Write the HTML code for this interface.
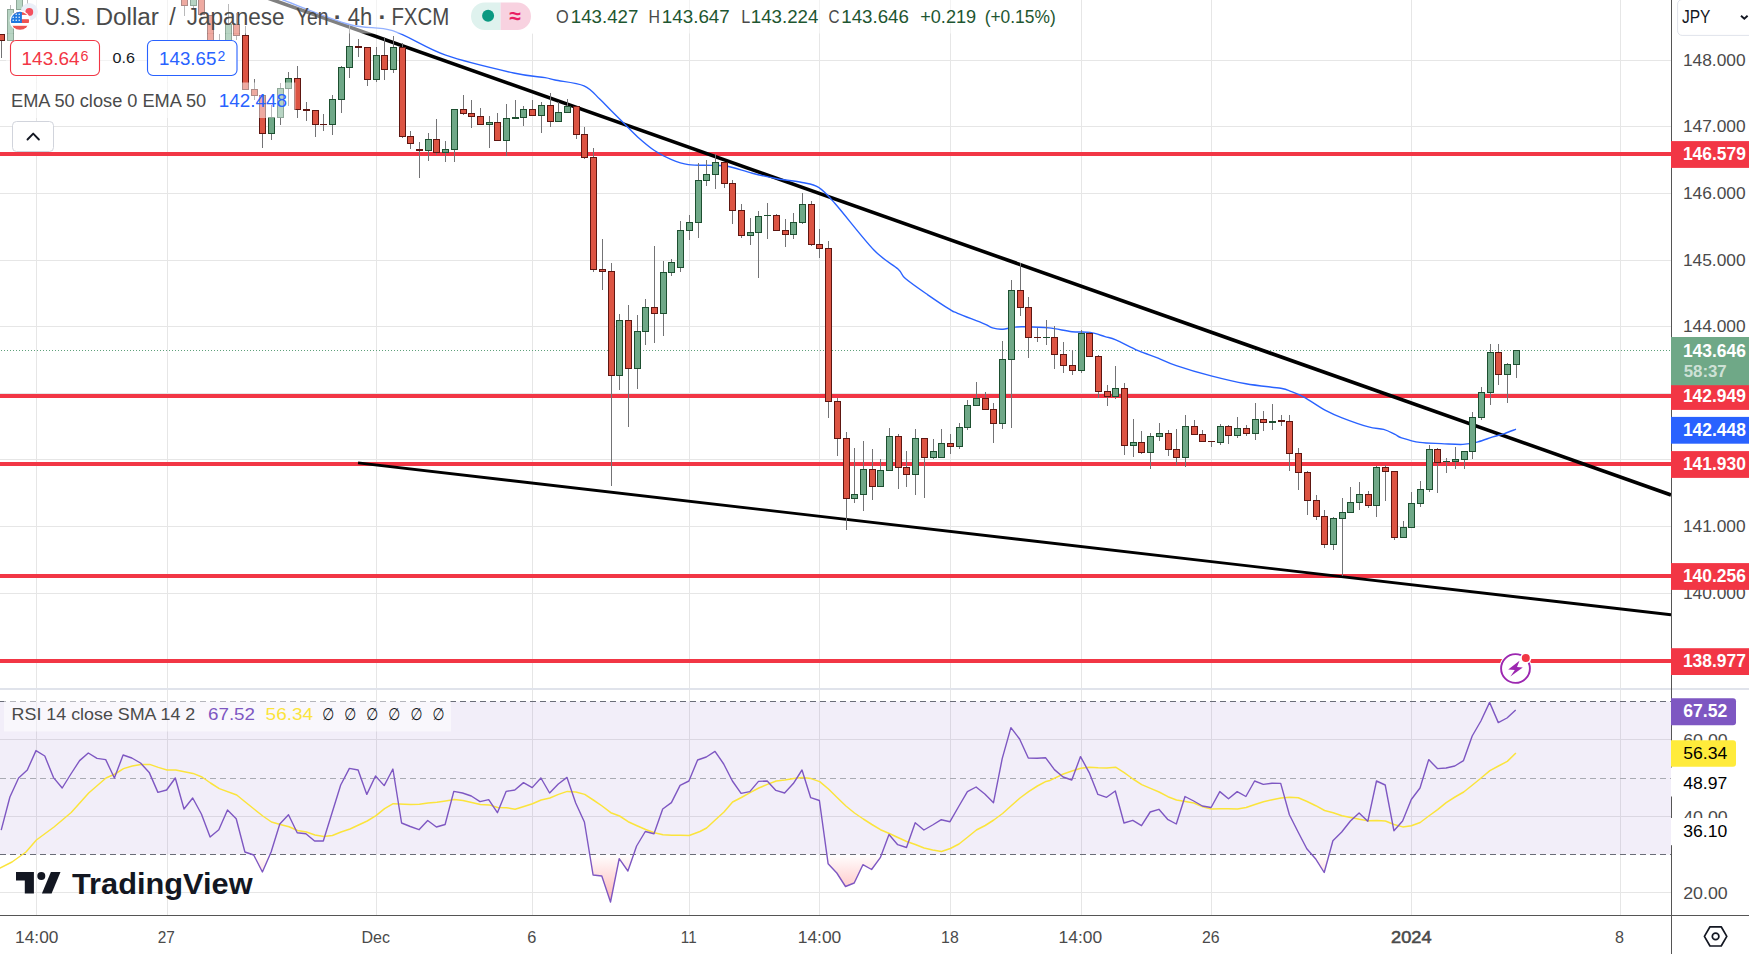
<!DOCTYPE html>
<html lang="en"><head><meta charset="utf-8"><title>USDJPY 4h chart</title>
<style>
html,body{margin:0;padding:0;background:#fff;}
body{width:1749px;height:954px;overflow:hidden;position:relative;font-family:"Liberation Sans", "DejaVu Sans", sans-serif;}
svg{position:absolute;left:0;top:0;display:block;}
text{font-family:"Liberation Sans", "DejaVu Sans", sans-serif;}
.ax{font-size:17.2px;fill:#4a4a4a;}
.lb{font-size:17.5px;font-weight:bold;fill:#fff;}
.tm{font-size:16.5px;fill:#4a4a4a;}
</style></head><body>
<svg width="1749" height="954" viewBox="0 0 1749 954">
<defs>
<linearGradient id="os" gradientUnits="userSpaceOnUse" x1="0" y1="854" x2="0" y2="905"><stop offset="0" stop-color="#ff5252" stop-opacity="0"/><stop offset="1" stop-color="#ff5252" stop-opacity="0.45"/></linearGradient>
<linearGradient id="ob" gradientUnits="userSpaceOnUse" x1="0" y1="701" x2="0" y2="660"><stop offset="0" stop-color="#4caf50" stop-opacity="0"/><stop offset="1" stop-color="#4caf50" stop-opacity="0.4"/></linearGradient>
<clipPath id="cpMain"><rect x="0" y="0" width="1671" height="688"/></clipPath>
<clipPath id="cpRsi"><rect x="0" y="690" width="1671" height="225"/></clipPath>
<clipPath id="cpBelow30"><rect x="0" y="854.5" width="1671" height="60"/></clipPath>
<clipPath id="cpAbove70"><rect x="0" y="690" width="1671" height="11.5"/></clipPath>
</defs>
<rect width="1749" height="954" fill="#fff"/>

<g id="grid" shape-rendering="crispEdges">
<rect x="36" y="0" width="1" height="915" fill="#e6e6e6"/>
<rect x="167" y="0" width="1" height="915" fill="#e6e6e6"/>
<rect x="376" y="0" width="1" height="915" fill="#e6e6e6"/>
<rect x="532" y="0" width="1" height="915" fill="#e6e6e6"/>
<rect x="689" y="0" width="1" height="915" fill="#e6e6e6"/>
<rect x="819" y="0" width="1" height="915" fill="#e6e6e6"/>
<rect x="950" y="0" width="1" height="915" fill="#e6e6e6"/>
<rect x="1081" y="0" width="1" height="915" fill="#e6e6e6"/>
<rect x="1211" y="0" width="1" height="915" fill="#e6e6e6"/>
<rect x="1411" y="0" width="1" height="915" fill="#e6e6e6"/>
<rect x="1620" y="0" width="1" height="915" fill="#e6e6e6"/>
<rect x="0" y="60" width="1671" height="1" fill="#e6e6e6"/>
<rect x="0" y="126" width="1671" height="1" fill="#e6e6e6"/>
<rect x="0" y="193" width="1671" height="1" fill="#e6e6e6"/>
<rect x="0" y="260" width="1671" height="1" fill="#e6e6e6"/>
<rect x="0" y="326" width="1671" height="1" fill="#e6e6e6"/>
<rect x="0" y="393" width="1671" height="1" fill="#e6e6e6"/>
<rect x="0" y="459" width="1671" height="1" fill="#e6e6e6"/>
<rect x="0" y="526" width="1671" height="1" fill="#e6e6e6"/>
<rect x="0" y="593" width="1671" height="1" fill="#e6e6e6"/>
<rect x="0" y="739" width="1671" height="1" fill="#e6e6e6"/>
<rect x="0" y="816" width="1671" height="1" fill="#e6e6e6"/>
<rect x="0" y="892" width="1671" height="1" fill="#e6e6e6"/>
</g>
<rect x="0" y="701.5" width="1671" height="153" fill="#7e57c2" fill-opacity="0.1"/>
<rect x="0" y="688" width="1749" height="2" fill="#e0e3eb"/>
<g clip-path="url(#cpMain)">
<rect x="0" y="152" width="1671" height="4" fill="#f23645"/>
<rect x="0" y="394" width="1671" height="4" fill="#f23645"/>
<rect x="0" y="462" width="1671" height="4" fill="#f23645"/>
<rect x="0" y="574" width="1671" height="4" fill="#f23645"/>
<rect x="0" y="659" width="1671" height="4" fill="#f23645"/>
<line x1="1" y1="350.5" x2="1671" y2="350.5" stroke="#5fa07b" stroke-width="1" stroke-dasharray="1 2" shape-rendering="crispEdges"/>
<line x1="255" y1="-6.4" x2="1671" y2="495" stroke="#000" stroke-width="3.6"/>
<line x1="358" y1="462.9" x2="1671" y2="614.8" stroke="#000" stroke-width="2.9"/>
<path d="M270.0 -5.0 C272.2 -4.2 269.9 -4.9 283.2 0.0 C296.4 4.9 331.3 19.4 349.5 24.5 C367.7 29.6 376.6 25.6 392.6 30.7 C408.6 35.8 425.5 48.2 445.7 55.2 C465.9 62.2 497.2 69.3 513.7 73.0 C530.2 76.7 538.1 76.4 545.0 77.6 C551.9 78.8 548.5 78.6 555.0 80.0 C561.5 81.4 576.5 82.6 584.0 85.8 C591.5 89.0 595.2 94.9 599.7 99.1 C604.2 103.2 607.1 106.6 611.3 110.7 C615.4 114.8 620.2 119.5 624.6 123.9 C629.0 128.3 632.9 132.8 637.9 137.2 C642.9 141.6 648.9 146.8 654.4 150.5 C659.9 154.2 665.3 157.0 671.0 159.3 C676.7 161.7 681.5 163.6 688.4 164.6 C695.3 165.6 706.0 165.1 712.5 165.4 C719.0 165.7 720.8 164.9 727.4 166.2 C734.0 167.5 744.0 171.1 752.3 173.2 C760.6 175.3 768.8 177.1 777.1 178.7 C785.4 180.2 795.1 181.1 802.0 182.5 C808.9 183.9 813.1 183.9 818.6 187.4 C824.1 190.9 825.8 193.1 835.0 203.5 C844.2 213.9 863.4 239.1 873.9 250.0 C884.4 260.9 892.8 264.4 898.0 269.1 C903.2 273.9 900.4 274.2 905.4 278.5 C910.4 282.8 920.3 289.6 927.8 294.8 C935.3 300.0 945.2 306.6 950.2 309.7 C955.2 312.8 951.9 310.9 957.6 313.3 C963.3 315.7 978.4 321.4 984.2 323.8 C990.0 326.2 989.6 327.0 992.5 327.9 C995.4 328.8 997.7 329.4 1001.6 329.3 C1005.5 329.2 1012.0 327.5 1015.7 327.1 C1019.4 326.7 1018.5 326.7 1024.0 326.8 C1029.5 326.9 1040.8 327.1 1048.8 327.9 C1056.8 328.7 1065.1 330.9 1072.0 331.7 C1078.9 332.4 1084.8 331.6 1090.3 332.4 C1095.8 333.2 1100.8 335.4 1105.0 336.6 C1109.2 337.9 1110.3 337.5 1115.8 339.9 C1121.3 342.2 1131.2 347.7 1138.2 350.7 C1145.2 353.7 1151.8 355.6 1158.1 358.1 C1164.4 360.6 1167.5 362.6 1176.3 365.6 C1185.1 368.6 1199.5 372.9 1211.1 375.9 C1222.7 378.9 1234.3 381.7 1245.9 383.8 C1257.5 385.9 1273.3 387.1 1280.8 388.3 C1288.3 389.6 1286.8 389.8 1290.7 391.3 C1294.6 392.8 1298.2 393.9 1304.0 397.1 C1309.8 400.3 1319.2 406.9 1325.5 410.4 C1331.8 413.8 1334.9 415.1 1342.1 417.8 C1349.3 420.6 1361.7 425.0 1368.6 426.9 C1375.5 428.8 1379.2 428.1 1383.6 429.4 C1388.0 430.6 1392.0 433.0 1395.0 434.4 C1398.0 435.8 1397.5 436.5 1401.6 437.8 C1405.7 439.1 1413.2 441.4 1419.8 442.4 C1426.4 443.4 1434.2 443.3 1441.4 443.6 C1448.6 443.9 1456.8 444.7 1462.9 444.4 C1469.0 444.1 1472.9 443.1 1477.9 441.9 C1482.9 440.6 1488.4 438.3 1492.8 436.9 C1497.2 435.5 1500.5 434.9 1504.4 433.6 C1508.3 432.3 1514.1 429.9 1516.0 429.2" fill="none" stroke="#2962ff" stroke-width="1.4" stroke-linejoin="round"/>
<g id="candles" shape-rendering="crispEdges">
<rect x="1" y="34" width="1" height="24" fill="#737375"/>
<rect x="-2" y="34" width="7" height="7" fill="#5e1611"/>
<rect x="-1" y="35" width="5" height="5" fill="#dc5443"/>
<rect x="10" y="5" width="1" height="36" fill="#737375"/>
<rect x="7" y="9" width="7" height="32" fill="#1d4f30"/>
<rect x="8" y="10" width="5" height="30" fill="#6fa887"/>
<rect x="19" y="-5" width="1" height="15" fill="#737375"/>
<rect x="16" y="-5" width="7" height="15" fill="#1d4f30"/>
<rect x="17" y="-4" width="5" height="13" fill="#6fa887"/>
<rect x="27" y="-9" width="1" height="24" fill="#737375"/>
<rect x="24" y="-9" width="7" height="4" fill="#1d4f30"/>
<rect x="25" y="-8" width="5" height="2" fill="#6fa887"/>
<rect x="184" y="-5" width="1" height="21" fill="#737375"/>
<rect x="181" y="-5" width="7" height="11" fill="#5e1611"/>
<rect x="182" y="-4" width="5" height="9" fill="#dc5443"/>
<rect x="193" y="-5" width="1" height="13" fill="#737375"/>
<rect x="190" y="-5" width="7" height="11" fill="#1d4f30"/>
<rect x="191" y="-4" width="5" height="9" fill="#6fa887"/>
<rect x="201" y="-5" width="1" height="20" fill="#737375"/>
<rect x="198" y="-5" width="7" height="20" fill="#5e1611"/>
<rect x="199" y="-4" width="5" height="18" fill="#dc5443"/>
<rect x="210" y="15" width="1" height="29" fill="#737375"/>
<rect x="207" y="15" width="7" height="29" fill="#5e1611"/>
<rect x="208" y="16" width="5" height="27" fill="#dc5443"/>
<rect x="219" y="34" width="1" height="10" fill="#737375"/>
<rect x="216" y="40" width="7" height="1" fill="#5e1611"/>
<rect x="228" y="4" width="1" height="40" fill="#737375"/>
<rect x="225" y="24" width="7" height="20" fill="#1d4f30"/>
<rect x="226" y="25" width="5" height="18" fill="#6fa887"/>
<rect x="236" y="13" width="1" height="27" fill="#737375"/>
<rect x="233" y="24" width="7" height="12" fill="#5e1611"/>
<rect x="234" y="25" width="5" height="10" fill="#dc5443"/>
<rect x="245" y="26" width="1" height="64" fill="#737375"/>
<rect x="242" y="35" width="7" height="55" fill="#5e1611"/>
<rect x="243" y="36" width="5" height="53" fill="#dc5443"/>
<rect x="254" y="79" width="1" height="21" fill="#737375"/>
<rect x="251" y="89" width="7" height="7" fill="#5e1611"/>
<rect x="252" y="90" width="5" height="5" fill="#dc5443"/>
<rect x="262" y="95" width="1" height="53" fill="#737375"/>
<rect x="259" y="95" width="7" height="39" fill="#5e1611"/>
<rect x="260" y="96" width="5" height="37" fill="#dc5443"/>
<rect x="271" y="105" width="1" height="35" fill="#737375"/>
<rect x="268" y="117" width="7" height="17" fill="#1d4f30"/>
<rect x="269" y="118" width="5" height="15" fill="#6fa887"/>
<rect x="280" y="83" width="1" height="42" fill="#737375"/>
<rect x="277" y="88" width="7" height="30" fill="#1d4f30"/>
<rect x="278" y="89" width="5" height="28" fill="#6fa887"/>
<rect x="288" y="72" width="1" height="34" fill="#737375"/>
<rect x="285" y="78" width="7" height="11" fill="#1d4f30"/>
<rect x="286" y="79" width="5" height="9" fill="#6fa887"/>
<rect x="297" y="66" width="1" height="52" fill="#737375"/>
<rect x="294" y="78" width="7" height="32" fill="#5e1611"/>
<rect x="295" y="79" width="5" height="30" fill="#dc5443"/>
<rect x="306" y="102" width="1" height="19" fill="#737375"/>
<rect x="303" y="109" width="7" height="2" fill="#5e1611"/>
<rect x="315" y="110" width="1" height="27" fill="#737375"/>
<rect x="312" y="110" width="7" height="15" fill="#5e1611"/>
<rect x="313" y="111" width="5" height="13" fill="#dc5443"/>
<rect x="323" y="114" width="1" height="17" fill="#737375"/>
<rect x="320" y="124" width="7" height="1" fill="#5e1611"/>
<rect x="332" y="95" width="1" height="40" fill="#737375"/>
<rect x="329" y="99" width="7" height="26" fill="#1d4f30"/>
<rect x="330" y="100" width="5" height="24" fill="#6fa887"/>
<rect x="341" y="66" width="1" height="47" fill="#737375"/>
<rect x="338" y="67" width="7" height="33" fill="#1d4f30"/>
<rect x="339" y="68" width="5" height="31" fill="#6fa887"/>
<rect x="349" y="25" width="1" height="53" fill="#737375"/>
<rect x="346" y="46" width="7" height="22" fill="#1d4f30"/>
<rect x="347" y="47" width="5" height="20" fill="#6fa887"/>
<rect x="358" y="39" width="1" height="18" fill="#737375"/>
<rect x="355" y="46" width="7" height="2" fill="#5e1611"/>
<rect x="367" y="47" width="1" height="39" fill="#737375"/>
<rect x="364" y="47" width="7" height="33" fill="#5e1611"/>
<rect x="365" y="48" width="5" height="31" fill="#dc5443"/>
<rect x="376" y="47" width="1" height="35" fill="#737375"/>
<rect x="373" y="55" width="7" height="25" fill="#1d4f30"/>
<rect x="374" y="56" width="5" height="23" fill="#6fa887"/>
<rect x="384" y="37" width="1" height="43" fill="#737375"/>
<rect x="381" y="55" width="7" height="15" fill="#5e1611"/>
<rect x="382" y="56" width="5" height="13" fill="#dc5443"/>
<rect x="393" y="36" width="1" height="37" fill="#737375"/>
<rect x="390" y="47" width="7" height="23" fill="#1d4f30"/>
<rect x="391" y="48" width="5" height="21" fill="#6fa887"/>
<rect x="402" y="43" width="1" height="95" fill="#737375"/>
<rect x="399" y="47" width="7" height="90" fill="#5e1611"/>
<rect x="400" y="48" width="5" height="88" fill="#dc5443"/>
<rect x="410" y="131" width="1" height="18" fill="#737375"/>
<rect x="407" y="136" width="7" height="8" fill="#5e1611"/>
<rect x="408" y="137" width="5" height="6" fill="#dc5443"/>
<rect x="419" y="142" width="1" height="36" fill="#737375"/>
<rect x="416" y="149" width="7" height="2" fill="#5e1611"/>
<rect x="428" y="133" width="1" height="28" fill="#737375"/>
<rect x="425" y="139" width="7" height="12" fill="#1d4f30"/>
<rect x="426" y="140" width="5" height="10" fill="#6fa887"/>
<rect x="436" y="119" width="1" height="36" fill="#737375"/>
<rect x="433" y="139" width="7" height="14" fill="#5e1611"/>
<rect x="434" y="140" width="5" height="12" fill="#dc5443"/>
<rect x="445" y="141" width="1" height="21" fill="#737375"/>
<rect x="442" y="149" width="7" height="4" fill="#1d4f30"/>
<rect x="443" y="150" width="5" height="2" fill="#6fa887"/>
<rect x="454" y="109" width="1" height="53" fill="#737375"/>
<rect x="451" y="109" width="7" height="41" fill="#1d4f30"/>
<rect x="452" y="110" width="5" height="39" fill="#6fa887"/>
<rect x="463" y="95" width="1" height="20" fill="#737375"/>
<rect x="460" y="109" width="7" height="5" fill="#5e1611"/>
<rect x="461" y="110" width="5" height="3" fill="#dc5443"/>
<rect x="471" y="100" width="1" height="28" fill="#737375"/>
<rect x="468" y="113" width="7" height="4" fill="#5e1611"/>
<rect x="469" y="114" width="5" height="2" fill="#dc5443"/>
<rect x="480" y="108" width="1" height="17" fill="#737375"/>
<rect x="477" y="116" width="7" height="9" fill="#5e1611"/>
<rect x="478" y="117" width="5" height="7" fill="#dc5443"/>
<rect x="489" y="116" width="1" height="32" fill="#737375"/>
<rect x="486" y="122" width="7" height="3" fill="#1d4f30"/>
<rect x="487" y="123" width="5" height="1" fill="#6fa887"/>
<rect x="497" y="113" width="1" height="28" fill="#737375"/>
<rect x="494" y="122" width="7" height="19" fill="#5e1611"/>
<rect x="495" y="123" width="5" height="17" fill="#dc5443"/>
<rect x="506" y="104" width="1" height="52" fill="#737375"/>
<rect x="503" y="118" width="7" height="23" fill="#1d4f30"/>
<rect x="504" y="119" width="5" height="21" fill="#6fa887"/>
<rect x="515" y="100" width="1" height="19" fill="#737375"/>
<rect x="512" y="117" width="7" height="2" fill="#1d4f30"/>
<rect x="523" y="106" width="1" height="20" fill="#737375"/>
<rect x="520" y="109" width="7" height="9" fill="#1d4f30"/>
<rect x="521" y="110" width="5" height="7" fill="#6fa887"/>
<rect x="532" y="100" width="1" height="16" fill="#737375"/>
<rect x="529" y="109" width="7" height="7" fill="#5e1611"/>
<rect x="530" y="110" width="5" height="5" fill="#dc5443"/>
<rect x="541" y="102" width="1" height="31" fill="#737375"/>
<rect x="538" y="105" width="7" height="11" fill="#1d4f30"/>
<rect x="539" y="106" width="5" height="9" fill="#6fa887"/>
<rect x="550" y="93" width="1" height="34" fill="#737375"/>
<rect x="547" y="105" width="7" height="17" fill="#5e1611"/>
<rect x="548" y="106" width="5" height="15" fill="#dc5443"/>
<rect x="558" y="102" width="1" height="20" fill="#737375"/>
<rect x="555" y="112" width="7" height="10" fill="#1d4f30"/>
<rect x="556" y="113" width="5" height="8" fill="#6fa887"/>
<rect x="567" y="99" width="1" height="14" fill="#737375"/>
<rect x="564" y="106" width="7" height="7" fill="#1d4f30"/>
<rect x="565" y="107" width="5" height="5" fill="#6fa887"/>
<rect x="576" y="106" width="1" height="33" fill="#737375"/>
<rect x="573" y="106" width="7" height="29" fill="#5e1611"/>
<rect x="574" y="107" width="5" height="27" fill="#dc5443"/>
<rect x="584" y="127" width="1" height="32" fill="#737375"/>
<rect x="581" y="134" width="7" height="24" fill="#5e1611"/>
<rect x="582" y="135" width="5" height="22" fill="#dc5443"/>
<rect x="593" y="148" width="1" height="124" fill="#737375"/>
<rect x="590" y="157" width="7" height="113" fill="#5e1611"/>
<rect x="591" y="158" width="5" height="111" fill="#dc5443"/>
<rect x="602" y="239" width="1" height="51" fill="#737375"/>
<rect x="599" y="269" width="7" height="3" fill="#5e1611"/>
<rect x="600" y="270" width="5" height="1" fill="#dc5443"/>
<rect x="611" y="263" width="1" height="223" fill="#737375"/>
<rect x="608" y="271" width="7" height="105" fill="#5e1611"/>
<rect x="609" y="272" width="5" height="103" fill="#dc5443"/>
<rect x="619" y="314" width="1" height="76" fill="#737375"/>
<rect x="616" y="320" width="7" height="56" fill="#1d4f30"/>
<rect x="617" y="321" width="5" height="54" fill="#6fa887"/>
<rect x="628" y="305" width="1" height="122" fill="#737375"/>
<rect x="625" y="320" width="7" height="49" fill="#5e1611"/>
<rect x="626" y="321" width="5" height="47" fill="#dc5443"/>
<rect x="637" y="315" width="1" height="74" fill="#737375"/>
<rect x="634" y="331" width="7" height="38" fill="#1d4f30"/>
<rect x="635" y="332" width="5" height="36" fill="#6fa887"/>
<rect x="645" y="299" width="1" height="46" fill="#737375"/>
<rect x="642" y="307" width="7" height="25" fill="#1d4f30"/>
<rect x="643" y="308" width="5" height="23" fill="#6fa887"/>
<rect x="654" y="246" width="1" height="97" fill="#737375"/>
<rect x="651" y="307" width="7" height="7" fill="#5e1611"/>
<rect x="652" y="308" width="5" height="5" fill="#dc5443"/>
<rect x="663" y="261" width="1" height="75" fill="#737375"/>
<rect x="660" y="272" width="7" height="42" fill="#1d4f30"/>
<rect x="661" y="273" width="5" height="40" fill="#6fa887"/>
<rect x="671" y="259" width="1" height="17" fill="#737375"/>
<rect x="668" y="262" width="7" height="11" fill="#1d4f30"/>
<rect x="669" y="263" width="5" height="9" fill="#6fa887"/>
<rect x="680" y="221" width="1" height="51" fill="#737375"/>
<rect x="677" y="230" width="7" height="38" fill="#1d4f30"/>
<rect x="678" y="231" width="5" height="36" fill="#6fa887"/>
<rect x="689" y="215" width="1" height="25" fill="#737375"/>
<rect x="686" y="222" width="7" height="9" fill="#1d4f30"/>
<rect x="687" y="223" width="5" height="7" fill="#6fa887"/>
<rect x="698" y="163" width="1" height="75" fill="#737375"/>
<rect x="695" y="180" width="7" height="43" fill="#1d4f30"/>
<rect x="696" y="181" width="5" height="41" fill="#6fa887"/>
<rect x="706" y="160" width="1" height="26" fill="#737375"/>
<rect x="703" y="174" width="7" height="7" fill="#1d4f30"/>
<rect x="704" y="175" width="5" height="5" fill="#6fa887"/>
<rect x="715" y="154" width="1" height="35" fill="#737375"/>
<rect x="712" y="162" width="7" height="13" fill="#1d4f30"/>
<rect x="713" y="163" width="5" height="11" fill="#6fa887"/>
<rect x="724" y="162" width="1" height="26" fill="#737375"/>
<rect x="721" y="162" width="7" height="22" fill="#5e1611"/>
<rect x="722" y="163" width="5" height="20" fill="#dc5443"/>
<rect x="732" y="180" width="1" height="44" fill="#737375"/>
<rect x="729" y="183" width="7" height="28" fill="#5e1611"/>
<rect x="730" y="184" width="5" height="26" fill="#dc5443"/>
<rect x="741" y="204" width="1" height="34" fill="#737375"/>
<rect x="738" y="210" width="7" height="26" fill="#5e1611"/>
<rect x="739" y="211" width="5" height="24" fill="#dc5443"/>
<rect x="750" y="218" width="1" height="27" fill="#737375"/>
<rect x="747" y="232" width="7" height="4" fill="#1d4f30"/>
<rect x="748" y="233" width="5" height="2" fill="#6fa887"/>
<rect x="758" y="211" width="1" height="67" fill="#737375"/>
<rect x="755" y="216" width="7" height="17" fill="#1d4f30"/>
<rect x="756" y="217" width="5" height="15" fill="#6fa887"/>
<rect x="767" y="203" width="1" height="36" fill="#737375"/>
<rect x="764" y="215" width="7" height="1" fill="#1d4f30"/>
<rect x="776" y="214" width="1" height="17" fill="#737375"/>
<rect x="773" y="215" width="7" height="16" fill="#5e1611"/>
<rect x="774" y="216" width="5" height="14" fill="#dc5443"/>
<rect x="785" y="219" width="1" height="28" fill="#737375"/>
<rect x="782" y="230" width="7" height="5" fill="#5e1611"/>
<rect x="783" y="231" width="5" height="3" fill="#dc5443"/>
<rect x="793" y="213" width="1" height="26" fill="#737375"/>
<rect x="790" y="222" width="7" height="13" fill="#1d4f30"/>
<rect x="791" y="223" width="5" height="11" fill="#6fa887"/>
<rect x="802" y="193" width="1" height="31" fill="#737375"/>
<rect x="799" y="204" width="7" height="19" fill="#1d4f30"/>
<rect x="800" y="205" width="5" height="17" fill="#6fa887"/>
<rect x="811" y="201" width="1" height="45" fill="#737375"/>
<rect x="808" y="204" width="7" height="41" fill="#5e1611"/>
<rect x="809" y="205" width="5" height="39" fill="#dc5443"/>
<rect x="819" y="229" width="1" height="29" fill="#737375"/>
<rect x="816" y="244" width="7" height="5" fill="#5e1611"/>
<rect x="817" y="245" width="5" height="3" fill="#dc5443"/>
<rect x="828" y="241" width="1" height="177" fill="#737375"/>
<rect x="825" y="248" width="7" height="154" fill="#5e1611"/>
<rect x="826" y="249" width="5" height="152" fill="#dc5443"/>
<rect x="837" y="398" width="1" height="58" fill="#737375"/>
<rect x="834" y="401" width="7" height="38" fill="#5e1611"/>
<rect x="835" y="402" width="5" height="36" fill="#dc5443"/>
<rect x="846" y="432" width="1" height="98" fill="#737375"/>
<rect x="843" y="438" width="7" height="61" fill="#5e1611"/>
<rect x="844" y="439" width="5" height="59" fill="#dc5443"/>
<rect x="854" y="448" width="1" height="55" fill="#737375"/>
<rect x="851" y="494" width="7" height="5" fill="#1d4f30"/>
<rect x="852" y="495" width="5" height="3" fill="#6fa887"/>
<rect x="863" y="441" width="1" height="70" fill="#737375"/>
<rect x="860" y="469" width="7" height="26" fill="#1d4f30"/>
<rect x="861" y="470" width="5" height="24" fill="#6fa887"/>
<rect x="872" y="449" width="1" height="51" fill="#737375"/>
<rect x="869" y="469" width="7" height="18" fill="#5e1611"/>
<rect x="870" y="470" width="5" height="16" fill="#dc5443"/>
<rect x="880" y="459" width="1" height="28" fill="#737375"/>
<rect x="877" y="470" width="7" height="17" fill="#1d4f30"/>
<rect x="878" y="471" width="5" height="15" fill="#6fa887"/>
<rect x="889" y="428" width="1" height="43" fill="#737375"/>
<rect x="886" y="436" width="7" height="35" fill="#1d4f30"/>
<rect x="887" y="437" width="5" height="33" fill="#6fa887"/>
<rect x="898" y="434" width="1" height="55" fill="#737375"/>
<rect x="895" y="436" width="7" height="32" fill="#5e1611"/>
<rect x="896" y="437" width="5" height="30" fill="#dc5443"/>
<rect x="906" y="451" width="1" height="36" fill="#737375"/>
<rect x="903" y="467" width="7" height="8" fill="#5e1611"/>
<rect x="904" y="468" width="5" height="6" fill="#dc5443"/>
<rect x="915" y="429" width="1" height="66" fill="#737375"/>
<rect x="912" y="438" width="7" height="37" fill="#1d4f30"/>
<rect x="913" y="439" width="5" height="35" fill="#6fa887"/>
<rect x="924" y="438" width="1" height="60" fill="#737375"/>
<rect x="921" y="438" width="7" height="20" fill="#5e1611"/>
<rect x="922" y="439" width="5" height="18" fill="#dc5443"/>
<rect x="933" y="439" width="1" height="20" fill="#737375"/>
<rect x="930" y="451" width="7" height="7" fill="#1d4f30"/>
<rect x="931" y="452" width="5" height="5" fill="#6fa887"/>
<rect x="941" y="429" width="1" height="29" fill="#737375"/>
<rect x="938" y="443" width="7" height="15" fill="#1d4f30"/>
<rect x="939" y="444" width="5" height="13" fill="#6fa887"/>
<rect x="950" y="434" width="1" height="20" fill="#737375"/>
<rect x="947" y="443" width="7" height="4" fill="#5e1611"/>
<rect x="948" y="444" width="5" height="2" fill="#dc5443"/>
<rect x="959" y="423" width="1" height="26" fill="#737375"/>
<rect x="956" y="427" width="7" height="20" fill="#1d4f30"/>
<rect x="957" y="428" width="5" height="18" fill="#6fa887"/>
<rect x="967" y="400" width="1" height="30" fill="#737375"/>
<rect x="964" y="405" width="7" height="23" fill="#1d4f30"/>
<rect x="965" y="406" width="5" height="21" fill="#6fa887"/>
<rect x="976" y="382" width="1" height="24" fill="#737375"/>
<rect x="973" y="398" width="7" height="8" fill="#1d4f30"/>
<rect x="974" y="399" width="5" height="6" fill="#6fa887"/>
<rect x="985" y="392" width="1" height="18" fill="#737375"/>
<rect x="982" y="398" width="7" height="12" fill="#5e1611"/>
<rect x="983" y="399" width="5" height="10" fill="#dc5443"/>
<rect x="993" y="403" width="1" height="40" fill="#737375"/>
<rect x="990" y="409" width="7" height="15" fill="#5e1611"/>
<rect x="991" y="410" width="5" height="13" fill="#dc5443"/>
<rect x="1002" y="341" width="1" height="88" fill="#737375"/>
<rect x="999" y="359" width="7" height="65" fill="#1d4f30"/>
<rect x="1000" y="360" width="5" height="63" fill="#6fa887"/>
<rect x="1011" y="280" width="1" height="148" fill="#737375"/>
<rect x="1008" y="290" width="7" height="70" fill="#1d4f30"/>
<rect x="1009" y="291" width="5" height="68" fill="#6fa887"/>
<rect x="1020" y="263" width="1" height="53" fill="#737375"/>
<rect x="1017" y="290" width="7" height="18" fill="#5e1611"/>
<rect x="1018" y="291" width="5" height="16" fill="#dc5443"/>
<rect x="1028" y="297" width="1" height="61" fill="#737375"/>
<rect x="1025" y="307" width="7" height="31" fill="#5e1611"/>
<rect x="1026" y="308" width="5" height="29" fill="#dc5443"/>
<rect x="1037" y="328" width="1" height="14" fill="#737375"/>
<rect x="1034" y="337" width="7" height="1" fill="#5e1611"/>
<rect x="1046" y="320" width="1" height="25" fill="#737375"/>
<rect x="1043" y="337" width="7" height="1" fill="#1d4f30"/>
<rect x="1054" y="326" width="1" height="43" fill="#737375"/>
<rect x="1051" y="337" width="7" height="18" fill="#5e1611"/>
<rect x="1052" y="338" width="5" height="16" fill="#dc5443"/>
<rect x="1063" y="342" width="1" height="31" fill="#737375"/>
<rect x="1060" y="354" width="7" height="12" fill="#5e1611"/>
<rect x="1061" y="355" width="5" height="10" fill="#dc5443"/>
<rect x="1072" y="350" width="1" height="25" fill="#737375"/>
<rect x="1069" y="365" width="7" height="6" fill="#5e1611"/>
<rect x="1070" y="366" width="5" height="4" fill="#dc5443"/>
<rect x="1081" y="330" width="1" height="43" fill="#737375"/>
<rect x="1078" y="333" width="7" height="38" fill="#1d4f30"/>
<rect x="1079" y="334" width="5" height="36" fill="#6fa887"/>
<rect x="1089" y="332" width="1" height="25" fill="#737375"/>
<rect x="1086" y="333" width="7" height="24" fill="#5e1611"/>
<rect x="1087" y="334" width="5" height="22" fill="#dc5443"/>
<rect x="1098" y="355" width="1" height="43" fill="#737375"/>
<rect x="1095" y="356" width="7" height="36" fill="#5e1611"/>
<rect x="1096" y="357" width="5" height="34" fill="#dc5443"/>
<rect x="1107" y="385" width="1" height="21" fill="#737375"/>
<rect x="1104" y="391" width="7" height="6" fill="#5e1611"/>
<rect x="1105" y="392" width="5" height="4" fill="#dc5443"/>
<rect x="1115" y="366" width="1" height="33" fill="#737375"/>
<rect x="1112" y="388" width="7" height="9" fill="#1d4f30"/>
<rect x="1113" y="389" width="5" height="7" fill="#6fa887"/>
<rect x="1124" y="383" width="1" height="72" fill="#737375"/>
<rect x="1121" y="388" width="7" height="58" fill="#5e1611"/>
<rect x="1122" y="389" width="5" height="56" fill="#dc5443"/>
<rect x="1133" y="419" width="1" height="38" fill="#737375"/>
<rect x="1130" y="442" width="7" height="4" fill="#1d4f30"/>
<rect x="1131" y="443" width="5" height="2" fill="#6fa887"/>
<rect x="1141" y="431" width="1" height="23" fill="#737375"/>
<rect x="1138" y="442" width="7" height="11" fill="#5e1611"/>
<rect x="1139" y="443" width="5" height="9" fill="#dc5443"/>
<rect x="1150" y="433" width="1" height="36" fill="#737375"/>
<rect x="1147" y="436" width="7" height="17" fill="#1d4f30"/>
<rect x="1148" y="437" width="5" height="15" fill="#6fa887"/>
<rect x="1159" y="423" width="1" height="18" fill="#737375"/>
<rect x="1156" y="433" width="7" height="4" fill="#1d4f30"/>
<rect x="1157" y="434" width="5" height="2" fill="#6fa887"/>
<rect x="1168" y="430" width="1" height="26" fill="#737375"/>
<rect x="1165" y="433" width="7" height="17" fill="#5e1611"/>
<rect x="1166" y="434" width="5" height="15" fill="#dc5443"/>
<rect x="1176" y="429" width="1" height="36" fill="#737375"/>
<rect x="1173" y="449" width="7" height="9" fill="#5e1611"/>
<rect x="1174" y="450" width="5" height="7" fill="#dc5443"/>
<rect x="1185" y="415" width="1" height="52" fill="#737375"/>
<rect x="1182" y="426" width="7" height="32" fill="#1d4f30"/>
<rect x="1183" y="427" width="5" height="30" fill="#6fa887"/>
<rect x="1194" y="420" width="1" height="15" fill="#737375"/>
<rect x="1191" y="426" width="7" height="9" fill="#5e1611"/>
<rect x="1192" y="427" width="5" height="7" fill="#dc5443"/>
<rect x="1202" y="430" width="1" height="12" fill="#737375"/>
<rect x="1199" y="434" width="7" height="8" fill="#5e1611"/>
<rect x="1200" y="435" width="5" height="6" fill="#dc5443"/>
<rect x="1211" y="441" width="1" height="6" fill="#737375"/>
<rect x="1208" y="441" width="7" height="1" fill="#5e1611"/>
<rect x="1220" y="424" width="1" height="21" fill="#737375"/>
<rect x="1217" y="426" width="7" height="17" fill="#1d4f30"/>
<rect x="1218" y="427" width="5" height="15" fill="#6fa887"/>
<rect x="1228" y="425" width="1" height="19" fill="#737375"/>
<rect x="1225" y="426" width="7" height="10" fill="#5e1611"/>
<rect x="1226" y="427" width="5" height="8" fill="#dc5443"/>
<rect x="1237" y="417" width="1" height="21" fill="#737375"/>
<rect x="1234" y="428" width="7" height="8" fill="#1d4f30"/>
<rect x="1235" y="429" width="5" height="6" fill="#6fa887"/>
<rect x="1246" y="425" width="1" height="11" fill="#737375"/>
<rect x="1243" y="428" width="7" height="6" fill="#5e1611"/>
<rect x="1244" y="429" width="5" height="4" fill="#dc5443"/>
<rect x="1255" y="403" width="1" height="37" fill="#737375"/>
<rect x="1252" y="419" width="7" height="15" fill="#1d4f30"/>
<rect x="1253" y="420" width="5" height="13" fill="#6fa887"/>
<rect x="1263" y="411" width="1" height="20" fill="#737375"/>
<rect x="1260" y="419" width="7" height="4" fill="#5e1611"/>
<rect x="1261" y="420" width="5" height="2" fill="#dc5443"/>
<rect x="1272" y="404" width="1" height="26" fill="#737375"/>
<rect x="1269" y="421" width="7" height="2" fill="#1d4f30"/>
<rect x="1281" y="415" width="1" height="11" fill="#737375"/>
<rect x="1278" y="420" width="7" height="2" fill="#5e1611"/>
<rect x="1289" y="415" width="1" height="56" fill="#737375"/>
<rect x="1286" y="421" width="7" height="33" fill="#5e1611"/>
<rect x="1287" y="422" width="5" height="31" fill="#dc5443"/>
<rect x="1298" y="448" width="1" height="42" fill="#737375"/>
<rect x="1295" y="453" width="7" height="20" fill="#5e1611"/>
<rect x="1296" y="454" width="5" height="18" fill="#dc5443"/>
<rect x="1307" y="471" width="1" height="44" fill="#737375"/>
<rect x="1304" y="472" width="7" height="29" fill="#5e1611"/>
<rect x="1305" y="473" width="5" height="27" fill="#dc5443"/>
<rect x="1316" y="495" width="1" height="25" fill="#737375"/>
<rect x="1313" y="500" width="7" height="17" fill="#5e1611"/>
<rect x="1314" y="501" width="5" height="15" fill="#dc5443"/>
<rect x="1324" y="510" width="1" height="38" fill="#737375"/>
<rect x="1321" y="516" width="7" height="29" fill="#5e1611"/>
<rect x="1322" y="517" width="5" height="27" fill="#dc5443"/>
<rect x="1333" y="517" width="1" height="33" fill="#737375"/>
<rect x="1330" y="518" width="7" height="27" fill="#1d4f30"/>
<rect x="1331" y="519" width="5" height="25" fill="#6fa887"/>
<rect x="1342" y="498" width="1" height="78" fill="#737375"/>
<rect x="1339" y="512" width="7" height="7" fill="#1d4f30"/>
<rect x="1340" y="513" width="5" height="5" fill="#6fa887"/>
<rect x="1350" y="487" width="1" height="26" fill="#737375"/>
<rect x="1347" y="502" width="7" height="11" fill="#1d4f30"/>
<rect x="1348" y="503" width="5" height="9" fill="#6fa887"/>
<rect x="1359" y="482" width="1" height="28" fill="#737375"/>
<rect x="1356" y="494" width="7" height="9" fill="#1d4f30"/>
<rect x="1357" y="495" width="5" height="7" fill="#6fa887"/>
<rect x="1368" y="491" width="1" height="17" fill="#737375"/>
<rect x="1365" y="494" width="7" height="12" fill="#5e1611"/>
<rect x="1366" y="495" width="5" height="10" fill="#dc5443"/>
<rect x="1376" y="466" width="1" height="51" fill="#737375"/>
<rect x="1373" y="467" width="7" height="39" fill="#1d4f30"/>
<rect x="1374" y="468" width="5" height="37" fill="#6fa887"/>
<rect x="1385" y="465" width="1" height="36" fill="#737375"/>
<rect x="1382" y="467" width="7" height="5" fill="#5e1611"/>
<rect x="1383" y="468" width="5" height="3" fill="#dc5443"/>
<rect x="1394" y="471" width="1" height="69" fill="#737375"/>
<rect x="1391" y="471" width="7" height="67" fill="#5e1611"/>
<rect x="1392" y="472" width="5" height="65" fill="#dc5443"/>
<rect x="1403" y="521" width="1" height="17" fill="#737375"/>
<rect x="1400" y="527" width="7" height="11" fill="#1d4f30"/>
<rect x="1401" y="528" width="5" height="9" fill="#6fa887"/>
<rect x="1411" y="492" width="1" height="36" fill="#737375"/>
<rect x="1408" y="503" width="7" height="25" fill="#1d4f30"/>
<rect x="1409" y="504" width="5" height="23" fill="#6fa887"/>
<rect x="1420" y="481" width="1" height="26" fill="#737375"/>
<rect x="1417" y="489" width="7" height="15" fill="#1d4f30"/>
<rect x="1418" y="490" width="5" height="13" fill="#6fa887"/>
<rect x="1429" y="445" width="1" height="47" fill="#737375"/>
<rect x="1426" y="449" width="7" height="41" fill="#1d4f30"/>
<rect x="1427" y="450" width="5" height="39" fill="#6fa887"/>
<rect x="1437" y="448" width="1" height="45" fill="#737375"/>
<rect x="1434" y="449" width="7" height="14" fill="#5e1611"/>
<rect x="1435" y="450" width="5" height="12" fill="#dc5443"/>
<rect x="1446" y="458" width="1" height="15" fill="#737375"/>
<rect x="1443" y="461" width="7" height="1" fill="#1d4f30"/>
<rect x="1455" y="447" width="1" height="22" fill="#737375"/>
<rect x="1452" y="459" width="7" height="3" fill="#1d4f30"/>
<rect x="1453" y="460" width="5" height="1" fill="#6fa887"/>
<rect x="1464" y="451" width="1" height="18" fill="#737375"/>
<rect x="1461" y="451" width="7" height="9" fill="#1d4f30"/>
<rect x="1462" y="452" width="5" height="7" fill="#6fa887"/>
<rect x="1472" y="412" width="1" height="47" fill="#737375"/>
<rect x="1469" y="417" width="7" height="35" fill="#1d4f30"/>
<rect x="1470" y="418" width="5" height="33" fill="#6fa887"/>
<rect x="1481" y="387" width="1" height="33" fill="#737375"/>
<rect x="1478" y="392" width="7" height="26" fill="#1d4f30"/>
<rect x="1479" y="393" width="5" height="24" fill="#6fa887"/>
<rect x="1490" y="344" width="1" height="61" fill="#737375"/>
<rect x="1487" y="352" width="7" height="41" fill="#1d4f30"/>
<rect x="1488" y="353" width="5" height="39" fill="#6fa887"/>
<rect x="1498" y="344" width="1" height="41" fill="#737375"/>
<rect x="1495" y="352" width="7" height="23" fill="#5e1611"/>
<rect x="1496" y="353" width="5" height="21" fill="#dc5443"/>
<rect x="1507" y="363" width="1" height="40" fill="#737375"/>
<rect x="1504" y="364" width="7" height="11" fill="#1d4f30"/>
<rect x="1505" y="365" width="5" height="9" fill="#6fa887"/>
<rect x="1516" y="350" width="1" height="28" fill="#737375"/>
<rect x="1513" y="350" width="7" height="15" fill="#1d4f30"/>
<rect x="1514" y="351" width="5" height="13" fill="#6fa887"/>
</g>
</g>
<g clip-path="url(#cpRsi)">
<polygon clip-path="url(#cpBelow30)" points="1.2,854.5 1.2,830.1 9.9,797.0 18.6,778.0 27.3,770.0 36.0,750.6 44.8,756.0 53.5,777.6 62.2,788.0 70.9,774.0 79.6,760.6 88.3,753.0 97.0,758.4 105.7,759.6 114.4,778.0 123.1,755.0 131.8,758.0 140.5,763.0 149.2,772.4 157.9,792.4 166.6,790.0 175.3,778.0 184.0,809.0 192.7,798.0 201.4,814.0 210.1,837.0 218.8,829.7 227.5,810.0 236.2,818.7 244.9,852.0 253.7,855.0 262.4,872.0 271.1,852.0 279.8,824.0 288.5,814.7 297.2,832.7 305.9,833.7 314.6,841.0 323.3,841.0 332.0,813.0 340.7,785.0 349.4,768.4 358.1,770.0 366.8,794.4 375.5,776.0 384.2,785.6 392.9,769.0 401.6,823.0 410.3,826.5 419.0,829.7 427.7,820.5 436.4,827.0 445.1,824.5 453.8,791.4 462.5,793.0 471.3,796.0 480.0,801.6 488.7,799.6 497.4,812.7 506.1,791.4 514.8,790.0 523.5,782.6 532.2,787.6 540.9,778.0 549.6,793.0 558.3,784.0 567.0,777.4 575.7,803.0 584.4,822.0 593.1,875.0 601.8,876.0 610.5,902.0 619.2,858.7 627.9,871.0 636.6,846.0 645.3,831.5 654.0,833.7 662.7,809.0 671.4,802.6 680.1,785.4 688.9,781.0 697.6,760.0 706.3,757.0 715.0,751.4 723.7,764.0 732.4,781.0 741.1,793.4 749.8,791.6 758.5,781.4 767.2,781.0 775.9,790.4 784.6,793.0 793.3,783.6 802.0,770.0 810.7,797.7 819.4,800.5 828.1,863.7 836.8,873.0 845.5,886.5 854.2,883.0 862.9,864.7 871.6,869.5 880.3,857.7 889.0,834.5 897.7,844.7 906.5,847.5 915.2,822.7 923.9,830.0 932.6,825.0 941.3,819.7 950.0,821.7 958.7,806.5 967.4,791.6 976.1,787.0 984.8,794.0 993.5,802.7 1002.2,758.6 1010.9,727.6 1019.6,739.0 1028.3,758.0 1037.0,758.2 1045.7,757.8 1054.4,769.6 1063.1,777.0 1071.8,780.0 1080.5,756.6 1089.2,772.6 1097.9,794.4 1106.6,797.3 1115.3,791.0 1124.0,823.0 1132.8,820.3 1141.5,825.7 1150.2,812.0 1158.9,809.3 1167.6,819.3 1176.3,824.0 1185.0,796.5 1193.7,801.0 1202.4,806.0 1211.1,807.5 1219.8,791.6 1228.5,798.7 1237.2,791.6 1245.9,796.5 1254.6,781.0 1263.3,784.4 1272.0,783.2 1280.7,783.4 1289.4,814.7 1298.1,832.0 1306.8,848.7 1315.5,858.7 1324.2,872.5 1332.9,840.7 1341.7,832.0 1350.4,821.0 1359.1,812.9 1367.8,821.3 1376.5,781.0 1385.2,785.0 1393.9,830.7 1402.6,821.0 1411.3,799.5 1420.0,788.0 1428.7,759.6 1437.4,768.6 1446.1,768.0 1454.8,766.0 1463.5,760.6 1472.2,736.0 1480.9,721.0 1489.6,702.4 1498.3,722.6 1507.0,718.0 1515.7,710.0 1515.7,854.5" fill="url(#os)"/>
<line x1="0" y1="701.5" x2="1671" y2="701.5" stroke="#6a6d78" stroke-width="1" stroke-dasharray="6 4" shape-rendering="crispEdges"/>
<line x1="0" y1="778.5" x2="1671" y2="778.5" stroke="#a9abb3" stroke-width="1" stroke-dasharray="6 4" shape-rendering="crispEdges"/>
<line x1="0" y1="854.5" x2="1671" y2="854.5" stroke="#6a6d78" stroke-width="1" stroke-dasharray="6 4" shape-rendering="crispEdges"/>
<polyline points="-2.0,869.0 0.0,868.0 12.0,862.0 26.0,852.0 36.4,840.0 54.0,827.0 71.2,812.5 88.7,793.0 106.0,778.0 115.0,774.0 123.5,768.6 132.3,766.0 141.0,764.6 149.7,764.4 158.3,767.4 167.0,770.0 175.7,770.0 193.0,773.4 202.0,777.0 210.5,783.0 219.3,788.6 236.7,795.0 245.3,802.0 254.0,809.0 262.8,816.0 271.5,822.0 280.2,824.5 289.0,826.7 297.6,830.5 306.4,832.0 315.0,835.0 323.8,836.5 332.4,835.5 341.0,832.0 350.0,829.0 367.2,821.0 376.0,815.7 384.6,808.7 393.2,803.7 410.6,804.5 419.4,804.2 428.0,803.0 436.9,802.2 445.5,801.0 454.3,799.6 462.9,800.4 471.7,802.4 480.3,804.5 489.1,804.9 497.7,807.5 506.5,807.7 515.1,809.3 523.9,806.5 532.5,803.7 541.1,800.0 549.9,798.0 558.5,794.4 567.3,791.4 575.9,792.0 584.7,794.4 593.3,800.0 602.1,806.0 610.8,812.7 619.6,816.0 628.2,821.7 637.0,825.7 645.6,829.5 654.4,832.7 663.0,834.7 671.8,835.3 680.4,835.3 689.2,835.5 700.0,831.5 706.6,828.0 715.2,820.0 724.0,812.0 732.6,802.0 741.4,797.5 750.0,792.6 758.8,788.0 767.4,784.4 776.2,781.0 784.9,780.0 793.7,778.6 802.3,777.6 811.0,778.6 819.7,781.6 828.5,789.0 837.1,797.5 845.9,806.0 854.5,813.0 863.3,819.0 871.9,824.5 880.5,829.7 889.3,833.5 897.9,837.5 906.7,841.5 915.3,844.5 924.1,848.0 932.7,850.0 941.5,851.5 950.3,848.5 959.0,844.0 967.8,837.0 976.4,830.0 985.2,825.5 993.8,820.0 1002.6,813.5 1011.2,805.7 1020.0,798.0 1028.6,791.6 1037.4,786.0 1046.0,781.4 1050.0,780.4 1063.4,774.0 1072.0,771.0 1080.8,768.2 1089.4,767.2 1098.2,767.8 1106.8,768.0 1115.6,767.2 1124.2,772.6 1133.0,779.0 1141.7,784.6 1150.5,788.4 1159.1,792.0 1167.9,796.7 1176.5,800.0 1185.3,801.5 1193.9,803.0 1202.7,806.7 1211.3,808.9 1220.1,808.7 1228.7,808.7 1237.5,809.0 1246.1,807.5 1254.9,804.5 1263.5,801.7 1272.3,799.7 1280.9,797.9 1289.7,797.3 1298.3,797.7 1307.1,801.5 1315.8,805.7 1324.6,810.5 1333.2,812.7 1342.0,815.7 1350.6,817.5 1359.4,819.3 1368.0,820.7 1376.8,820.5 1385.4,821.0 1394.0,824.5 1402.8,826.9 1411.4,825.7 1420.2,822.5 1428.8,816.0 1437.6,809.7 1446.2,802.7 1455.0,797.0 1463.7,792.0 1472.5,785.0 1481.1,778.0 1489.9,770.6 1498.5,766.0 1507.3,761.4 1515.9,753.0" fill="none" stroke="#fbe43c" stroke-width="1.5" stroke-linejoin="round"/>
<polyline points="1.2,830.1 9.9,797.0 18.6,778.0 27.3,770.0 36.0,750.6 44.8,756.0 53.5,777.6 62.2,788.0 70.9,774.0 79.6,760.6 88.3,753.0 97.0,758.4 105.7,759.6 114.4,778.0 123.1,755.0 131.8,758.0 140.5,763.0 149.2,772.4 157.9,792.4 166.6,790.0 175.3,778.0 184.0,809.0 192.7,798.0 201.4,814.0 210.1,837.0 218.8,829.7 227.5,810.0 236.2,818.7 244.9,852.0 253.7,855.0 262.4,872.0 271.1,852.0 279.8,824.0 288.5,814.7 297.2,832.7 305.9,833.7 314.6,841.0 323.3,841.0 332.0,813.0 340.7,785.0 349.4,768.4 358.1,770.0 366.8,794.4 375.5,776.0 384.2,785.6 392.9,769.0 401.6,823.0 410.3,826.5 419.0,829.7 427.7,820.5 436.4,827.0 445.1,824.5 453.8,791.4 462.5,793.0 471.3,796.0 480.0,801.6 488.7,799.6 497.4,812.7 506.1,791.4 514.8,790.0 523.5,782.6 532.2,787.6 540.9,778.0 549.6,793.0 558.3,784.0 567.0,777.4 575.7,803.0 584.4,822.0 593.1,875.0 601.8,876.0 610.5,902.0 619.2,858.7 627.9,871.0 636.6,846.0 645.3,831.5 654.0,833.7 662.7,809.0 671.4,802.6 680.1,785.4 688.9,781.0 697.6,760.0 706.3,757.0 715.0,751.4 723.7,764.0 732.4,781.0 741.1,793.4 749.8,791.6 758.5,781.4 767.2,781.0 775.9,790.4 784.6,793.0 793.3,783.6 802.0,770.0 810.7,797.7 819.4,800.5 828.1,863.7 836.8,873.0 845.5,886.5 854.2,883.0 862.9,864.7 871.6,869.5 880.3,857.7 889.0,834.5 897.7,844.7 906.5,847.5 915.2,822.7 923.9,830.0 932.6,825.0 941.3,819.7 950.0,821.7 958.7,806.5 967.4,791.6 976.1,787.0 984.8,794.0 993.5,802.7 1002.2,758.6 1010.9,727.6 1019.6,739.0 1028.3,758.0 1037.0,758.2 1045.7,757.8 1054.4,769.6 1063.1,777.0 1071.8,780.0 1080.5,756.6 1089.2,772.6 1097.9,794.4 1106.6,797.3 1115.3,791.0 1124.0,823.0 1132.8,820.3 1141.5,825.7 1150.2,812.0 1158.9,809.3 1167.6,819.3 1176.3,824.0 1185.0,796.5 1193.7,801.0 1202.4,806.0 1211.1,807.5 1219.8,791.6 1228.5,798.7 1237.2,791.6 1245.9,796.5 1254.6,781.0 1263.3,784.4 1272.0,783.2 1280.7,783.4 1289.4,814.7 1298.1,832.0 1306.8,848.7 1315.5,858.7 1324.2,872.5 1332.9,840.7 1341.7,832.0 1350.4,821.0 1359.1,812.9 1367.8,821.3 1376.5,781.0 1385.2,785.0 1393.9,830.7 1402.6,821.0 1411.3,799.5 1420.0,788.0 1428.7,759.6 1437.4,768.6 1446.1,768.0 1454.8,766.0 1463.5,760.6 1472.2,736.0 1480.9,721.0 1489.6,702.4 1498.3,722.6 1507.0,718.0 1515.7,710.0" fill="none" stroke="#7e57c2" stroke-width="1.4" stroke-linejoin="round"/>
</g><g id="legend">
<rect x="6" y="0" width="1058" height="33.5" fill="#fff" fill-opacity="0.5"/>
<rect x="6" y="33.5" width="236" height="49" fill="#fff" fill-opacity="0.5"/>
<rect x="6" y="82.5" width="289.5" height="35.5" fill="#fff" fill-opacity="0.5"/>
<rect x="4" y="701" width="447" height="30.5" fill="#fff" fill-opacity="0.5"/>
<circle cx="29.3" cy="11.7" r="8.6" fill="#ebeff8"/>
<circle cx="29.3" cy="11.9" r="3.9" fill="#f4505f"/>
<circle cx="20" cy="20.75" r="10.3" fill="#fff"/>
<clipPath id="usf"><circle cx="20" cy="20.75" r="9.1"/></clipPath>
<g clip-path="url(#usf)">
<rect x="10" y="11" width="20" height="20" fill="#fff"/>
<rect x="10" y="11.6" width="20" height="3.3" fill="#ef5350"/>
<rect x="10" y="19.2" width="20" height="3.8" fill="#ef5350"/>
<rect x="10" y="25.8" width="20" height="4.2" fill="#ef5350"/>
<rect x="10" y="11" width="11.9" height="12" fill="#2079e0"/>
<circle cx="13.2" cy="14.2" r="0.75" fill="#fff"/>
<circle cx="16.2" cy="14.2" r="0.75" fill="#fff"/>
<circle cx="19.2" cy="14.2" r="0.75" fill="#fff"/>
<circle cx="13.2" cy="17.2" r="0.75" fill="#fff"/>
<circle cx="16.2" cy="17.2" r="0.75" fill="#fff"/>
<circle cx="19.2" cy="17.2" r="0.75" fill="#fff"/>
<circle cx="13.2" cy="20.2" r="0.75" fill="#fff"/>
<circle cx="16.2" cy="20.2" r="0.75" fill="#fff"/>
<circle cx="19.2" cy="20.2" r="0.75" fill="#fff"/>
</g>
<text x="44.2" y="24.9" textLength="42" lengthAdjust="spacingAndGlyphs" font-size="23.3" fill="#4a4a4a">U.S.</text>
<text x="95.4" y="24.9" textLength="63.6" lengthAdjust="spacingAndGlyphs" font-size="23.3" fill="#4a4a4a">Dollar</text>
<text x="186.8" y="24.9" textLength="97.7" lengthAdjust="spacingAndGlyphs" font-size="23.3" fill="#4a4a4a">Japanese</text>
<text x="296" y="24.9" textLength="32.6" lengthAdjust="spacingAndGlyphs" font-size="23.3" fill="#4a4a4a">Yen</text>
<text x="347.8" y="24.9" textLength="24.5" lengthAdjust="spacingAndGlyphs" font-size="23.3" fill="#4a4a4a">4h</text>
<text x="391.4" y="24.9" textLength="57.9" lengthAdjust="spacingAndGlyphs" font-size="23.3" fill="#4a4a4a">FXCM</text>
<text x="172.4" y="24.9" font-size="23.3" fill="#4a4a4a" text-anchor="middle">/</text>
<text x="337.7" y="24.9" font-size="24" font-weight="bold" fill="#4a4a4a" text-anchor="middle">·</text>
<text x="382.4" y="24.9" font-size="24" font-weight="bold" fill="#4a4a4a" text-anchor="middle">·</text>
<rect x="466" y="0" width="68" height="33.5" fill="#fff"/>
<clipPath id="pill"><rect x="471" y="2.6" width="60" height="27.4" rx="13.7"/></clipPath>
<g clip-path="url(#pill)"><rect x="471" y="2" width="29.6" height="29" fill="#dff2ee"/><rect x="500.6" y="2" width="31" height="29" fill="#f8d2e0"/></g>
<circle cx="488.1" cy="15.8" r="6" fill="#0a9981"/>
<text x="515" y="22.6" font-size="21" font-weight="bold" fill="#e91e63" text-anchor="middle">≈</text>
<text x="555.9" y="22.8" textLength="12.7" lengthAdjust="spacingAndGlyphs" font-size="18.6" fill="#4a4a4a">O</text>
<text x="570.8" y="22.8" textLength="67.5" lengthAdjust="spacingAndGlyphs" font-size="18.6" fill="#1e5631">143.427</text>
<text x="648.5" y="22.8" textLength="11.5" lengthAdjust="spacingAndGlyphs" font-size="18.6" fill="#4a4a4a">H</text>
<text x="661.8" y="22.8" textLength="68" lengthAdjust="spacingAndGlyphs" font-size="18.6" fill="#1e5631">143.647</text>
<text x="741.2" y="22.8" textLength="9" lengthAdjust="spacingAndGlyphs" font-size="18.6" fill="#4a4a4a">L</text>
<text x="750.8" y="22.8" textLength="67.6" lengthAdjust="spacingAndGlyphs" font-size="18.6" fill="#1e5631">143.224</text>
<text x="828.6" y="22.8" textLength="11" lengthAdjust="spacingAndGlyphs" font-size="18.6" fill="#4a4a4a">C</text>
<text x="841.3" y="22.8" textLength="67.6" lengthAdjust="spacingAndGlyphs" font-size="18.6" fill="#1e5631">143.646</text>
<text x="920.2" y="22.8" textLength="56" lengthAdjust="spacingAndGlyphs" font-size="18.6" fill="#1e5631">+0.219</text>
<text x="984.7" y="22.8" textLength="71" lengthAdjust="spacingAndGlyphs" font-size="18.6" fill="#1e5631">(+0.15%)</text>
<rect x="10.5" y="40.5" width="89" height="35" rx="5.5" fill="#fff" stroke="#f23645" stroke-width="1.1"/>
<text x="21.6" y="64.5" textLength="57.9" lengthAdjust="spacingAndGlyphs" font-size="18.5" fill="#f23645">143.64</text>
<text x="80.6" y="60.6" textLength="8" lengthAdjust="spacingAndGlyphs" font-size="14" fill="#f23645">6</text>
<text x="112.6" y="63.1" textLength="22.4" lengthAdjust="spacingAndGlyphs" font-size="14.5" fill="#131722">0.6</text>
<rect x="147.5" y="40.5" width="89.5" height="35" rx="5.5" fill="#fff" stroke="#2962ff" stroke-width="1.1"/>
<text x="159.1" y="64.5" textLength="57.2" lengthAdjust="spacingAndGlyphs" font-size="18.5" fill="#2962ff">143.65</text>
<text x="217.4" y="60.6" textLength="7.8" lengthAdjust="spacingAndGlyphs" font-size="14" fill="#2962ff">2</text>
<text x="11.0" y="106.6" textLength="195.2" lengthAdjust="spacingAndGlyphs" font-size="18" fill="#4a4a4a">EMA 50 close 0 EMA 50</text>
<text x="218.8" y="106.6" textLength="68.2" lengthAdjust="spacingAndGlyphs" font-size="18" fill="#2962ff">142.448</text>
<rect x="12.5" y="121.5" width="41" height="30" rx="4" fill="#fff" stroke="#d1d4dc" stroke-width="1"/>
<polyline points="27.5,139.5 33.2,133.6 38.9,139.5" fill="none" stroke="#131722" stroke-width="1.9" stroke-linecap="round" stroke-linejoin="round"/>
<text x="11.6" y="719.9" textLength="183.7" lengthAdjust="spacingAndGlyphs" font-size="17" fill="#4a4a4a">RSI 14 close SMA 14 2</text>
<text x="208" y="719.9" textLength="47" lengthAdjust="spacingAndGlyphs" font-size="17" fill="#7e57c2">67.52</text>
<text x="265.6" y="719.9" textLength="47.6" lengthAdjust="spacingAndGlyphs" font-size="17" fill="#fbe43c">56.34</text>
<text x="322.3" y="719.9" textLength="12.2" lengthAdjust="spacingAndGlyphs" font-size="17" fill="#131722" font-style="italic">∅</text>
<text x="344.32" y="719.9" textLength="12.2" lengthAdjust="spacingAndGlyphs" font-size="17" fill="#131722" font-style="italic">∅</text>
<text x="366.34000000000003" y="719.9" textLength="12.2" lengthAdjust="spacingAndGlyphs" font-size="17" fill="#131722" font-style="italic">∅</text>
<text x="388.36" y="719.9" textLength="12.2" lengthAdjust="spacingAndGlyphs" font-size="17" fill="#131722" font-style="italic">∅</text>
<text x="410.38" y="719.9" textLength="12.2" lengthAdjust="spacingAndGlyphs" font-size="17" fill="#131722" font-style="italic">∅</text>
<text x="432.4" y="719.9" textLength="12.2" lengthAdjust="spacingAndGlyphs" font-size="17" fill="#131722" font-style="italic">∅</text>
</g>
<g id="bolt">
<circle cx="1515.5" cy="668.5" r="16.3" fill="#fff"/>
<circle cx="1515.5" cy="668.5" r="14.4" fill="#fff" stroke="#9c27b0" stroke-width="1.9"/>
<polygon points="1519.5,660.8 1508.2,669.6 1514.8,670 1510.4,676.6 1522.8,667.4 1517,667" fill="#9c27b0"/>
<circle cx="1525.8" cy="658" r="5.6" fill="#fff"/>
<circle cx="1525.8" cy="658" r="4" fill="#f23645"/>
</g>
<g id="tvlogo" fill="#131722">
<polygon points="16,872.1 33.9,872.1 33.9,893.5 24.8,893.5 24.8,880.4 16,880.4"/>
<circle cx="41.3" cy="875.9" r="4"/>
<polygon points="50.9,872.1 60.5,872.1 51.6,893.5 41.9,893.5"/>
<text x="72" y="893.5" textLength="180.6" lengthAdjust="spacingAndGlyphs" font-size="30" font-weight="bold" fill="#131722">TradingView</text>
</g>
<g id="raxis">
<rect x="1672" y="0" width="77" height="954" fill="#fff"/>
<text x="1682.9" y="66.0" class="ax" textLength="62.8" lengthAdjust="spacingAndGlyphs" >148.000</text>
<text x="1682.9" y="132.0" class="ax" textLength="62.8" lengthAdjust="spacingAndGlyphs" >147.000</text>
<text x="1682.9" y="199.0" class="ax" textLength="62.8" lengthAdjust="spacingAndGlyphs" >146.000</text>
<text x="1682.9" y="266.0" class="ax" textLength="62.8" lengthAdjust="spacingAndGlyphs" >145.000</text>
<text x="1682.9" y="332.0" class="ax" textLength="62.8" lengthAdjust="spacingAndGlyphs" >144.000</text>
<text x="1682.9" y="532.0" class="ax" textLength="62.8" lengthAdjust="spacingAndGlyphs" >141.000</text>
<text x="1682.9" y="599.0" class="ax" textLength="62.8" lengthAdjust="spacingAndGlyphs" >140.000</text>
<text x="1683.2" y="745.6" class="ax" textLength="44.5" lengthAdjust="spacingAndGlyphs" >60.00</text>
<text x="1683.2" y="822.6" class="ax" textLength="44.5" lengthAdjust="spacingAndGlyphs" >40.00</text>
<text x="1683.2" y="898.6" class="ax" textLength="44.5" lengthAdjust="spacingAndGlyphs" >20.00</text>
<rect x="1672" y="767.5" width="78" height="29" fill="#fff"/>
<rect x="1672" y="818" width="78" height="27.2" fill="#fff"/>
<text x="1683.2" y="788.5" textLength="44" lengthAdjust="spacingAndGlyphs" font-size="16.8" fill="#000">48.97</text>
<text x="1683.2" y="837.2" textLength="44" lengthAdjust="spacingAndGlyphs" font-size="16.8" fill="#000">36.10</text>
<rect x="1671" y="688" width="78" height="2" fill="#e0e3eb"/>
<rect x="1671" y="0" width="1" height="954" fill="#555555"/>
<rect x="1671" y="767.5" width="2" height="29" fill="#fff"/>
<rect x="1671" y="818" width="2" height="27.2" fill="#fff"/>
<rect x="1671" y="141.1" width="78" height="26.8" fill="#f23645"/>
<text x="1682.9" y="160.1" class="lb" textLength="63" lengthAdjust="spacingAndGlyphs" fill="#fff">146.579</text>
<rect x="1671" y="383.1" width="78" height="26.8" fill="#f23645"/>
<text x="1682.9" y="402.1" class="lb" textLength="63" lengthAdjust="spacingAndGlyphs" fill="#fff">142.949</text>
<rect x="1671" y="416.9" width="78" height="26.8" fill="#2962ff"/>
<text x="1682.9" y="435.9" class="lb" textLength="63" lengthAdjust="spacingAndGlyphs" fill="#fff">142.448</text>
<rect x="1671" y="451.1" width="78" height="26.8" fill="#f23645"/>
<text x="1682.9" y="470.1" class="lb" textLength="63" lengthAdjust="spacingAndGlyphs" fill="#fff">141.930</text>
<rect x="1671" y="563.1" width="78" height="26.8" fill="#f23645"/>
<text x="1682.9" y="582.1" class="lb" textLength="63" lengthAdjust="spacingAndGlyphs" fill="#fff">140.256</text>
<rect x="1671" y="648.2" width="78" height="26.8" fill="#f23645"/>
<text x="1682.9" y="667.2" class="lb" textLength="63" lengthAdjust="spacingAndGlyphs" fill="#fff">138.977</text>
<rect x="1671" y="337" width="78" height="48.2" fill="#6fa887"/>
<text x="1682.9" y="357.1" class="lb" textLength="63" lengthAdjust="spacingAndGlyphs" >143.646</text>
<text x="1683.7" y="377.3" textLength="43" lengthAdjust="spacingAndGlyphs" font-size="16" font-weight="bold" fill="#fff" fill-opacity="0.68">58:37</text>
<path d="M1671 698.2 H1733 a3 3 0 0 1 3 3 V722.2 a3 3 0 0 1 -3 3 H1671 Z" fill="#7e57c2"/>
<text x="1683.2" y="717.2" class="lb" textLength="44" lengthAdjust="spacingAndGlyphs" >67.52</text>
<path d="M1671 740.3 H1733 a3 3 0 0 1 3 3 V763.8 a3 3 0 0 1 -3 3 H1671 Z" fill="#ffeb3b"/>
<text x="1683.2" y="759.2" textLength="44" lengthAdjust="spacingAndGlyphs" font-size="16.8" fill="#000">56.34</text>
<rect x="1677.6" y="-0.5" width="90" height="35.9" rx="4.5" fill="#fff" stroke="#e0e3eb" stroke-width="1"/>
<text x="1681.9" y="22.9" textLength="28.5" lengthAdjust="spacingAndGlyphs" font-size="18" fill="#131722">JPY</text>
<polyline points="1741,15.7 1744.3,18.8 1747.6,15.7" fill="none" stroke="#131722" stroke-width="1.9"/>
</g>
<g id="taxis">
<rect x="0" y="916" width="1749" height="38" fill="#fff"/>
<rect x="0" y="915" width="1749" height="1" fill="#555555"/>
<rect x="1671" y="915" width="1" height="39" fill="#555555"/>
<text x="15.1" y="942.9" class="tm" textLength="43.3" lengthAdjust="spacingAndGlyphs" >14:00</text>
<text x="157.7" y="942.9" class="tm" textLength="17.1" lengthAdjust="spacingAndGlyphs" >27</text>
<text x="361.5" y="942.9" class="tm" textLength="28.5" lengthAdjust="spacingAndGlyphs" >Dec</text>
<text x="527.3" y="942.9" class="tm" textLength="9.1" lengthAdjust="spacingAndGlyphs" >6</text>
<text x="680.8" y="942.9" class="tm" textLength="15.8" lengthAdjust="spacingAndGlyphs" >11</text>
<text x="797.7" y="942.9" class="tm" textLength="43.6" lengthAdjust="spacingAndGlyphs" >14:00</text>
<text x="941.1" y="942.9" class="tm" textLength="17.6" lengthAdjust="spacingAndGlyphs" >18</text>
<text x="1058.6" y="942.9" class="tm" textLength="43.5" lengthAdjust="spacingAndGlyphs" >14:00</text>
<text x="1202" y="942.9" class="tm" textLength="17.6" lengthAdjust="spacingAndGlyphs" >26</text>
<text x="1615" y="942.9" class="tm" textLength="9" lengthAdjust="spacingAndGlyphs" >8</text>
<text x="1391.1" y="942.9" class="tm" textLength="40.5" lengthAdjust="spacingAndGlyphs" stroke="#4a4a4a" stroke-width="0.55">2024</text>
<polygon points="1704.4,936.4 1710,926.8 1721.2,926.8 1726.8,936.4 1721.2,946 1710,946" fill="none" stroke="#131722" stroke-width="1.7" stroke-linejoin="round"/>
<circle cx="1715.6" cy="936.4" r="3.3" fill="none" stroke="#131722" stroke-width="1.7"/>
</g>
</svg>
</body></html>
